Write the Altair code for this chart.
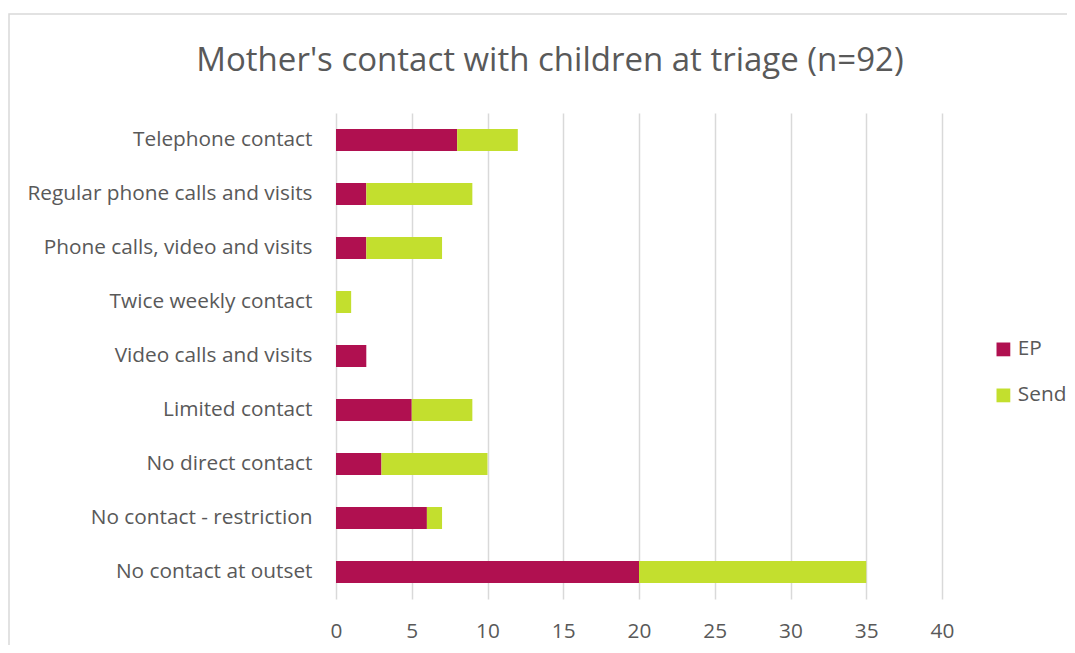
import altair as alt
import pandas as pd

categories = [
    "Telephone contact",
    "Regular phone calls and visits",
    "Phone calls, video and visits",
    "Twice weekly contact",
    "Video calls and visits",
    "Limited contact",
    "No direct contact",
    "No contact - restriction",
    "No contact at outset",
]
ep = [8, 2, 2, 0, 2, 5, 3, 6, 20]
send = [4, 7, 5, 1, 0, 4, 7, 1, 15]
series = ["EP", "Send"]
colors = ["#B01050", "#C3DF2E"]

rows = []
for c, a, b in zip(categories, ep, send):
    rows.append({"category": c, "series": "EP", "value": a, "ord": 0})
    rows.append({"category": c, "series": "Send", "value": b, "ord": 1})
df = pd.DataFrame(rows)

FONT = "Open Sans"
TXT = "#595959"
FS = 20.8

bars = alt.Chart(df).mark_bar(size=22).encode(
    y=alt.Y("category:N", sort=categories, title=None,
            axis=alt.Axis(ticks=False, domain=False, labelFontSize=FS,
                          labelColor=TXT, labelFont=FONT, labelPadding=24,
                          labelLimit=400)),
    x=alt.X("value:Q", stack="zero", title=None,
            scale=alt.Scale(domain=[0, 40], nice=False),
            axis=alt.Axis(values=[0, 5, 10, 15, 20, 25, 30, 35, 40], ticks=False,
                          domain=False, grid=True, gridColor="#D9D9D9",
                          gridWidth=1.5, labelFontSize=FS, labelColor=TXT,
                          labelFont=FONT, labelPadding=22, labelFlush=False)),
    color=alt.Color("series:N", scale=alt.Scale(domain=series, range=colors),
                    legend=alt.Legend(title=None, orient="none", legendX=657,
                                      legendY=226, symbolType="square",
                                      symbolSize=190, symbolStrokeWidth=0,
                                      labelFontSize=FS, labelColor=TXT,
                                      labelFont=FONT, rowPadding=24,
                                      labelOffset=4)),
    order=alt.Order("ord:Q"),
)

frame = alt.Chart(pd.DataFrame({"a": [0]})).mark_rect(
    filled=False, stroke="#D9D9D9", strokeWidth=1.5
).encode(
    x=alt.value(-327), x2=alt.value(760),
    y=alt.value(-99), y2=alt.value(600),
)

chart = alt.layer(frame, bars).properties(
    width=606,
    height=486,
    title=alt.TitleParams("Mother's contact with children at triage (n=92)",
                          fontSize=33, font=FONT, fontWeight="normal",
                          color=TXT, anchor="middle", frame="group",
                          offset=-65, dx=-89),
    autosize=alt.AutoSizeParams(type="none"),
    padding={"left": 328, "top": 105, "right": 125, "bottom": 46},
).configure_view(stroke=None)

chart.save("out.html", embed_options={"renderer": "svg", "actions": False})
